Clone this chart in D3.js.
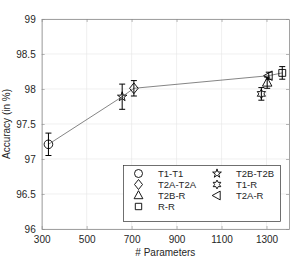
<!DOCTYPE html>
<html><head><meta charset="utf-8">
<script src="https://cdn.jsdelivr.net/npm/d3@7"></script>
<style>body{margin:0;background:#fff}svg{display:block;font-family:"Liberation Sans",Arial,sans-serif}</style>
</head><body><div id="chart"></div>
<script>
const names = ["T1-T1","T2A-T2A","T2B-R","R-R","T2B-T2B","T1-R","T2A-R"];
const markers = ["circle","diamond","triangle","square","pentagram","hexagram","triangleLeft"];
const params = [330, 710, 1303, 1370, 658, 1277, 1310];
const accuracy = [97.21, 98.01, 98.09, 98.23, 97.89, 97.93, 98.19];
const errors = [0.16, 0.11, 0.08, 0.09, 0.18, 0.09, 0.05];
const frontOrder = ["T1-T1","T2B-T2B","T2A-T2A","T2A-R","R-R"];
const xTicks = [300,500,700,900,1100,1300];
const yTicks = [96,96.5,97,97.5,98,98.5,99];

const W=299,H=260, m={l:41.7,t:19,r:10,b:31};
const svg=d3.select("#chart").append("svg").attr("width",W).attr("height",H);
const x=d3.scaleLinear().domain([300,1400]).range([m.l,W-m.r]);
const y=d3.scaleLinear().domain([96,99]).range([H-m.b,m.t]);
const col="#262626";

// grid
svg.append("g").selectAll("line").data(xTicks).join("line")
 .attr("x1",d=>x(d)).attr("x2",d=>x(d)).attr("y1",y(96)).attr("y2",y(99)).attr("stroke","#e6e6e6").attr("stroke-width",0.6);
svg.append("g").selectAll("line").data(yTicks).join("line")
 .attr("y1",d=>y(d)).attr("y2",d=>y(d)).attr("x1",x(300)).attr("x2",x(1400)).attr("stroke","#e6e6e6").attr("stroke-width",0.6);

// axes
const ax=d3.axisBottom(x).tickValues(xTicks).tickSizeInner(-3).tickSizeOuter(0).tickPadding(7).tickFormat(d=>String(d));
const ay=d3.axisLeft(y).tickValues(yTicks).tickSizeInner(-3).tickSizeOuter(0).tickPadding(6).tickFormat(d=>String(d));
const gx=svg.append("g").attr("transform",`translate(0,${y(96)})`).call(ax);
const gy=svg.append("g").attr("transform",`translate(${x(300)},0)`).call(ay);
const gx2=svg.append("g").attr("transform",`translate(0,${y(99)})`).call(d3.axisTop(x).tickValues(xTicks).tickSizeInner(-3).tickSizeOuter(0).tickFormat(""));
const gy2=svg.append("g").attr("transform",`translate(${x(1400)},0)`).call(d3.axisRight(y).tickValues(yTicks).tickSizeInner(-3).tickSizeOuter(0).tickFormat(""));
[gx,gy,gx2,gy2].forEach(g=>{g.select(".domain").attr("stroke","#8a8a8a").attr("stroke-width",0.8);
 g.selectAll(".tick line").attr("stroke","#8a8a8a").attr("stroke-width",0.6);
 g.selectAll("text").attr("fill",col).attr("font-size",10).attr("font-family","Liberation Sans, Arial, sans-serif");});

svg.append("text").attr("x",(x(300)+x(1400))/2).attr("y",H-4).attr("text-anchor","middle").attr("font-size",10).attr("fill",col).text("# Parameters");
svg.append("text").attr("transform",`translate(10,${(y(96)+y(99))/2}) rotate(-90)`).attr("text-anchor","middle").attr("font-size",10).attr("fill",col).text("Accuracy (in %)");

// symbol paths
function symPath(type,s){
 switch(type){
  case "circle": return d3.arc()({innerRadius:0,outerRadius:s,startAngle:0,endAngle:2*Math.PI});
  case "diamond": return `M0,${-s*1.25}L${s},0L0,${s*1.25}L${-s},0Z`;
  case "square": return `M${-s*0.8},${-s*0.8}H${s*0.8}V${s*0.8}H${-s*0.8}Z`;
  case "triangle": return `M0,${-s*1.2}L${s*1.1},${s*0.8}L${-s*1.1},${s*0.8}Z`;
  case "triangleLeft": return `M${-s*1.2},0L${s*0.8},${-s*1.1}L${s*0.8},${s*1.1}Z`;
  case "pentagram": { let p=[]; for(let i=0;i<10;i++){const r=i%2?s*0.45:s*1.15; const a=-Math.PI/2+i*Math.PI/5; p.push([r*Math.cos(a),r*Math.sin(a)]);} return "M"+p.map(q=>q.join(",")).join("L")+"Z"; }
  case "hexagram": { let p=[]; for(let i=0;i<12;i++){const r=i%2?s*0.6:s*1.1; const a=-Math.PI/2+i*Math.PI/6; p.push([r*Math.cos(a),r*Math.sin(a)]);} return "M"+p.map(q=>q.join(",")).join("L")+"Z"; }
 }
}

const data=names.map((n,i)=>({n,mk:markers[i],p:params[i],a:accuracy[i],e:errors[i]}));
const byName=Object.fromEntries(data.map(d=>[d.n,d]));
// line
svg.append("path").datum(frontOrder.map(n=>byName[n]))
 .attr("d",d3.line().x(d=>x(d.p)).y(d=>y(d.a))).attr("fill","none").attr("stroke","#333").attr("stroke-width",0.6);
// error bars
const eb=svg.append("g").attr("stroke","#000").attr("stroke-width",1);
data.forEach(d=>{
 eb.append("line").attr("x1",x(d.p)).attr("x2",x(d.p)).attr("y1",y(d.a-d.e)).attr("y2",y(d.a+d.e));
 [d.a-d.e,d.a+d.e].forEach(v=>eb.append("line").attr("x1",x(d.p)-3).attr("x2",x(d.p)+3).attr("y1",y(v)).attr("y2",y(v)));
});
svg.append("g").selectAll("path").data(data).join("path")
 .attr("transform",d=>`translate(${x(d.p)},${y(d.a)})`).attr("d",d=>symPath(d.mk,4.3))
 .attr("fill","none").attr("stroke","#000").attr("stroke-width",0.9);

// legend
const lg=svg.append("g");
lg.append("rect").attr("x",123.5).attr("y",165.5).attr("width",157).attr("height",56).attr("fill","#fff").attr("stroke","#333").attr("stroke-width",0.7);
data.forEach((d,i)=>{
 const c=i<4?0:1, r=i<4?i:i-4;
 const mx=c?217:138.5, tx=c?236:158, yy=173.5+r*11;
 lg.append("path").attr("transform",`translate(${mx},${yy})`).attr("d",symPath(d.mk,4)).attr("fill","none").attr("stroke","#000").attr("stroke-width",0.9);
 lg.append("text").attr("x",tx).attr("y",yy+3.5).attr("font-size",9.5).attr("fill",col).text(d.n);
});
</script></body></html>
